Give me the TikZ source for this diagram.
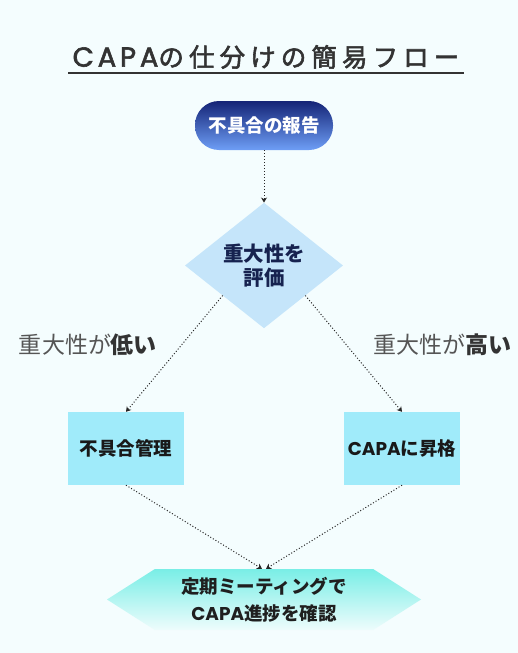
\documentclass[tikz,border=0pt]{standalone}
\usepackage{fontspec}
\setmainfont{Noto Sans CJK JP}
\newfontfamily\titlefont[LetterSpace=20,FakeBold=2.2]{Noto Sans CJK JP}
\newfontfamily\titlelat[LetterSpace=14,FakeBold=2.2]{Poppins}
\newfontfamily\poplat{Poppins}
\usetikzlibrary{shapes.geometric,shapes.symbols,arrows.meta}
\definecolor{bg}{HTML}{F4FDFE}
\definecolor{titlecol}{HTML}{333333}
\definecolor{pilltop}{HTML}{142476}
\definecolor{pillbot}{HTML}{6E9EF6}
\definecolor{diafill}{HTML}{C5E5FA}
\definecolor{diatext}{HTML}{16224F}
\definecolor{boxfill}{HTML}{A0EBFA}
\definecolor{hextop}{HTML}{79EEE6}
\definecolor{hexbot}{HTML}{EEFCFC}
\definecolor{lblcol}{HTML}{555555}
\definecolor{lblbold}{HTML}{333333}
\tikzset{
  titlestyle/.style={font=\titlefont\fontsize{25.5}{30}\selectfont, text=titlecol, inner sep=0},
  titleline/.style={draw=titlecol, line width=1.2pt},
  pill/.style={rounded corners=24pt, minimum width=138pt, minimum height=49pt, inner sep=0,
    top color=pilltop, bottom color=pillbot, text=white, font=\bfseries\fontsize{18.5}{22}\selectfont},
  dia/.style={diamond, fill=diafill, minimum width=158pt, minimum height=125pt, inner sep=0,
    text=diatext, align=center, font=\bfseries\fontsize{20.5}{24}\selectfont},
  boxstyle/.style={rectangle, fill=boxfill, minimum width=116pt, minimum height=73pt, inner sep=0,
    text=black!90, font=\bfseries\fontsize{18.5}{22}\selectfont},
  hex/.style={signal, signal to=west and east, signal from=nowhere, signal pointer angle=65,
    minimum width=314pt, minimum height=61pt, inner sep=0,
    top color=hextop, bottom color=hexbot, text=black!88, align=center,
    font=\bfseries\fontsize{18.5}{27}\selectfont},
  lbl/.style={text=lblcol, inner sep=0, font=\fontsize{23}{27}\selectfont},
  conn/.style={draw=black!85, dotted, line width=1pt, -{Stealth[length=5pt,width=6pt]}}
}
\begin{document}
\begin{tikzpicture}[x=1pt,y=-1pt]
\fill[bg] (0,0) rectangle (518,653);
\useasboundingbox (0,0) rectangle (518,653);
\node[titlestyle] (title) at (266,57) {{\titlelat\fontsize{27.5}{30}\selectfont CAPA}の仕分けの簡易フロー};
\coordinate (ulA) at (68,73);
\coordinate (ulB) at (464,73);
\draw[titleline] (ulA) -- (ulB);
\node[pill] (report) at (264,125.5) {不具合の報告};
\node[dia] (eval) at (264,265.5) {重大性を\\評価};
\node[boxstyle] (nc) at (126,448.5) {不具合管理};
\node[boxstyle] (capa) at (402,448.5) {{\poplat CAPA}に昇格};
\node[hex] (meet) at (264,599.5) {定期ミーティングで\\{\poplat CAPA}進捗を確認};
\node[lbl] (low) at (88,345) {重大性が{\bfseries\color{lblbold}低い}};
\node[lbl] (high) at (442.5,345) {重大性が{\bfseries\color{lblbold}高い}};
\draw[conn] (report) -- (eval);
\draw[conn] (eval.216) -- (nc.north);
\draw[conn] (eval.-36) -- (capa.north);
\draw[conn] (nc.south) -- ([xshift=-2pt]meet.north);
\draw[conn] (capa.south) -- ([xshift=2pt]meet.north);
\end{tikzpicture}
\end{document}
